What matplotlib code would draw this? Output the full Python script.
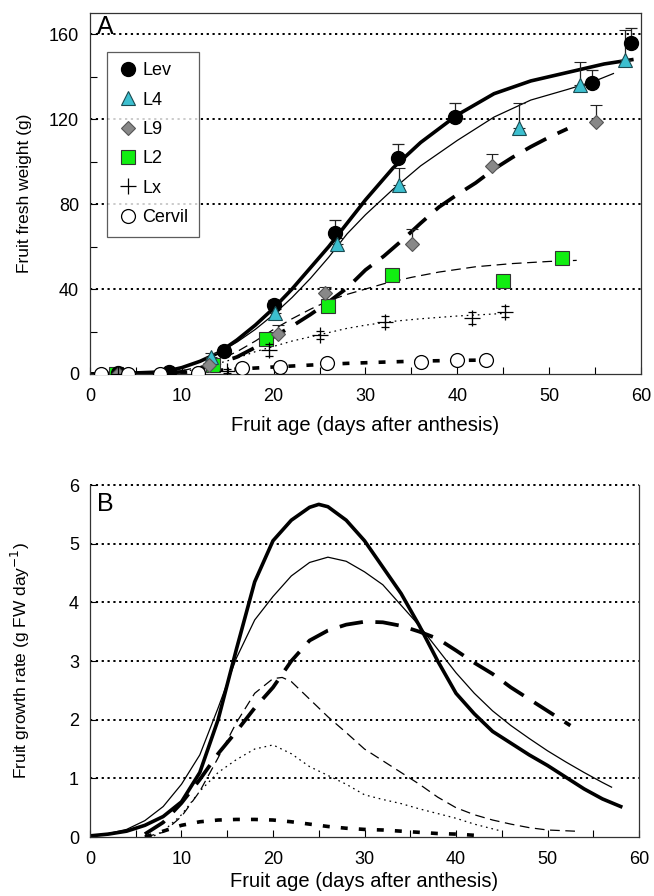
import numpy as np
import matplotlib.pyplot as plt
from matplotlib.ticker import MultipleLocator

plt.rcParams['font.family'] = ['Liberation Sans', 'DejaVu Sans']
plt.rcParams['lines.scale_dashes'] = False

# ---- Panel A: measured fresh weight (g) ----
lev_x = [3, 8.6, 14.6, 20.0, 26.7, 33.5, 39.7, 54.7, 58.9]
lev_y = [0.5, 0.8, 10.9, 32.5, 66.5, 101.9, 121, 137, 156]
lev_err = [0, 0, 1.5, 2.5, 6, 6.3, 6.6, 6, 7]

l4_x = [3, 13.2, 20.1, 26.9, 33.6, 46.7, 53.4, 58.3]
l4_y = [0, 8, 28.6, 61, 89, 116, 136, 148]
l4_err = [0, 2, 2, 3, 8, 11.8, 10.8, 14]

l9_x = [3, 13, 20.5, 25.6, 35.1, 43.8, 55.1]
l9_y = [0, 4, 19, 38, 61.2, 97.8, 118.6]
l9_err = [0, 1, 4, 3, 7, 5.7, 8]

l2_x = [2.8, 13.4, 19.2, 25.9, 32.9, 45.0, 51.4]
l2_y = [0, 4.2, 16.5, 32, 46.7, 43.9, 54.6]

lx_x = [3, 14.9, 19.5, 25, 32.1, 41.6, 45.2]
lx_y = [0, 1.5, 11.3, 18.4, 24.6, 26.4, 29.3]
lx_err = [0, 1, 3, 2, 2.5, 3, 2.5]

cer_x = [1.2, 4.1, 7.6, 11.8, 16.5, 20.7, 25.8, 36.0, 40.0, 43.1]
cer_y = [0, 0, 0, 0.5, 2.8, 3.5, 5, 5.8, 6.6, 6.6]

# ---- Panel A: fitted curves ----
lev_fx = [0, 5, 8, 10, 12, 14, 16, 18, 20, 22, 24, 26, 28, 30, 33, 36, 40, 44, 48, 52, 56, 59]
lev_fy = [0, 0.5, 1, 3, 6, 10, 16, 23, 31, 40, 50, 60, 71, 82, 97, 109, 122, 132, 138, 142, 146, 148]

l4_fx = [0, 5, 8, 10, 12, 14, 16, 18, 20, 22, 24, 26, 28, 30, 33, 36, 40, 44, 48, 52, 55, 57]
l4_fy = [0, 0.5, 1.5, 3, 6, 10, 15, 21, 28, 36, 45, 55, 66, 75, 87, 98, 110, 121, 129, 134, 138, 141.5]

l9_fx = [0, 8, 10, 12, 14, 16, 18, 20, 22, 24, 26, 28, 30, 32, 34, 36, 38, 40, 42, 44, 46, 48, 50, 52]
l9_fy = [0, 0.5, 1, 2.5, 5, 8, 12.5, 17.5, 22.5, 28, 34, 40.5, 49, 55.5, 63, 71, 78.6, 84.5, 90, 96.5, 102, 107, 111.5, 115.5]

l2_fx = [0, 8, 10, 12, 14, 16, 18, 20, 22, 24, 26, 28, 30, 32, 35, 38, 42, 46, 50, 53]
l2_fy = [0, 0.5, 1.5, 3.5, 6.5, 10.5, 15.5, 21, 26, 30.5, 34.5, 37.5, 40, 42.5, 45.5, 48, 50.5, 52, 53, 53.5]

lx_fx = [0, 8, 10, 12, 14, 16, 18, 20, 22, 24, 26, 28, 30, 33, 36, 40, 45]
lx_fy = [0, 0.3, 1, 2.5, 5, 7.5, 10.5, 13, 15.5, 17.5, 19.5, 21.5, 23, 24.8, 26, 27.3, 28.5]

cer_fx = [0, 8, 12, 16, 20, 24, 28, 32, 36, 40, 42]
cer_fy = [0, 0.3, 1.2, 2.3, 3.3, 4.2, 5, 5.6, 6.1, 6.4, 6.5]

# ---- Panel B: growth rate (g FW day-1) ----
lev_rx = [0, 2, 4, 6, 8, 10, 12, 14, 16, 18, 20, 22, 24, 25, 26, 28, 30, 32, 34, 36, 38, 40, 42, 44, 46, 48, 50, 52, 54, 56, 58]
lev_ry = [0.02, 0.05, 0.1, 0.2, 0.35, 0.6, 1.1, 2.0, 3.2, 4.35, 5.05, 5.4, 5.62, 5.67, 5.63, 5.4, 5.05, 4.6, 4.15, 3.6, 3.0, 2.45, 2.1, 1.8, 1.6, 1.4, 1.22, 1.02, 0.82, 0.65, 0.52]

l4_rx = [0, 2, 4, 6, 8, 10, 12, 14, 16, 18, 20, 22, 24, 26, 28, 30, 32, 34, 36, 38, 40, 42, 44, 46, 48, 50, 52, 54, 56, 57]
l4_ry = [0.02, 0.06, 0.13, 0.28, 0.52, 0.9, 1.4, 2.2, 3.05, 3.7, 4.1, 4.45, 4.68, 4.77, 4.7, 4.52, 4.3, 3.95, 3.6, 3.2, 2.8, 2.45, 2.15, 1.9, 1.68, 1.47, 1.28, 1.1, 0.93, 0.85]

l9_rx = [6, 8, 10, 12, 14, 16, 18, 20, 22, 24, 26, 28, 30, 32, 34, 36, 38, 40, 42, 44, 46, 48, 50, 52.5]
l9_ry = [0.05, 0.25, 0.58, 0.98, 1.42, 1.8, 2.2, 2.55, 3.0, 3.35, 3.52, 3.62, 3.67, 3.66, 3.6, 3.5, 3.38, 3.18, 2.97, 2.78, 2.55, 2.35, 2.15, 1.9]

l2_rx = [6, 8, 10, 12, 14, 16, 18, 20, 21, 22, 24, 26, 28, 30, 32, 34, 36, 38, 40, 42, 44, 46, 48, 50, 53]
l2_ry = [0.0, 0.08, 0.35, 0.78, 1.35, 1.95, 2.45, 2.7, 2.72, 2.65, 2.35, 2.05, 1.78, 1.5, 1.3, 1.1, 0.9, 0.68, 0.5, 0.38, 0.29, 0.22, 0.16, 0.12, 0.1]

lx_rx = [7, 8, 10, 12, 14, 16, 18, 20, 22, 24, 26, 28, 30, 32, 34, 36, 38, 40, 42, 44, 45]
lx_ry = [0.02, 0.1, 0.38, 0.78, 1.1, 1.32, 1.5, 1.57, 1.42, 1.2, 1.05, 0.9, 0.72, 0.64, 0.57, 0.48, 0.4, 0.32, 0.22, 0.14, 0.1]

cer_rx = [6, 8, 10, 12, 14, 16, 18, 20, 22, 24, 26, 28, 30, 32, 34, 36, 38, 40, 42]
cer_ry = [0.0, 0.1, 0.2, 0.26, 0.29, 0.3, 0.3, 0.29, 0.26, 0.22, 0.18, 0.15, 0.13, 0.12, 0.1, 0.08, 0.06, 0.05, 0.03]

labels = ['Lev', 'L4', 'L9', 'L2', 'Lx', 'Cervil']

# line styles shared by both panels
styles = {
    'Lev': dict(color='black', lw=2.6, ls='-'),
    'L4': dict(color='black', lw=0.9, ls='-'),
    'L9': dict(color='black', lw=2.7, ls=(0, (17, 9))),
    'L2': dict(color='black', lw=0.9, ls=(0, (7, 4))),
    'Lx': dict(color='black', lw=0.9, ls=(0, (1.2, 2.8))),
    'Cervil': dict(color='black', lw=2.6, ls=(0, (5, 8))),
}
markers = {
    'Lev': dict(marker='o', ms=10, mfc='black', mec='black'),
    'L4': dict(marker='^', ms=10.5, mfc='#3cbfcf', mec='#1a4a50', mew=0.8),
    'L9': dict(marker='D', ms=7.5, mfc='#888888', mec='#555555', mew=0.8),
    'L2': dict(marker='s', ms=9.5, mfc='#11ee11', mec='#333333', mew=0.8),
    'Lx': dict(marker='+', ms=11, mec='black', mew=0.9),
    'Cervil': dict(marker='o', ms=10, mfc='white', mec='black', mew=0.9),
}

fig = plt.figure(figsize=(6.54, 8.96), dpi=100)
axA = fig.add_axes([0.1376, 0.5826, 0.8425, 0.4029])
axB = fig.add_axes([0.1376, 0.0658, 0.8395, 0.3929])


def style_axes(ax, ymax, ygrid, ymajor, yminor):
    ax.set_xlim(0, 60)
    ax.set_ylim(0, ymax)
    for g in ygrid:
        ax.axhline(g, color='black', lw=1.4, ls=(0, (1.6, 2.6)), zorder=0.5, clip_on=False)
    ax.xaxis.set_major_locator(MultipleLocator(10))
    ax.xaxis.set_minor_locator(MultipleLocator(5))
    ax.yaxis.set_major_locator(MultipleLocator(ymajor))
    if yminor:
        ax.yaxis.set_minor_locator(MultipleLocator(yminor))
    ax.tick_params(which='both', direction='in', labelsize=13, width=0.8, length=5)
    ax.tick_params(axis='x', which='both', pad=10)
    ax.tick_params(axis='y', which='both', pad=8)
    for s in ax.spines.values():
        s.set_linewidth(0.9)
        s.set_color('#333333')


# ---- Panel A ----
style_axes(axA, 170, [40, 80, 120, 160], 40, 20)
axA.plot(lev_fx, lev_fy, **styles['Lev'], zorder=2)
axA.plot(l4_fx, l4_fy, **styles['L4'], zorder=2)
axA.plot(l9_fx, l9_fy, **styles['L9'], zorder=2)
axA.plot(l2_fx, l2_fy, **styles['L2'], zorder=2)
axA.plot(lx_fx, lx_fy, **styles['Lx'], zorder=2)
axA.plot(cer_fx, cer_fy, **styles['Cervil'], zorder=2)

eb = dict(ls='none', ecolor='#222222', elinewidth=0.9, capsize=4, capthick=0.9, zorder=4)
axA.errorbar(lev_x, lev_y, yerr=[np.zeros(len(lev_err)), lev_err], **markers['Lev'], **eb)
axA.errorbar(l4_x, l4_y, yerr=[np.zeros(len(l4_err)), l4_err], **markers['L4'], **eb)
axA.errorbar(l9_x, l9_y, yerr=[np.zeros(len(l9_err)), l9_err], **markers['L9'], **eb)
axA.plot(l2_x, l2_y, ls='none', zorder=4, **markers['L2'])
axA.errorbar(lx_x, lx_y, yerr=lx_err, ls='none', ecolor='black', elinewidth=0.8,
             capsize=3, capthick=0.8, zorder=4, **markers['Lx'])
axA.plot(cer_x, cer_y, ls='none', zorder=5, **markers['Cervil'])

axA.set_ylabel('Fruit fresh weight (g)', fontsize=12.5)
axA.yaxis.set_label_coords(-0.105, 0.5)
axA.set_xlabel('Fruit age (days after anthesis)', fontsize=14.5, va='top')
axA.xaxis.set_label_coords(0.5, -0.115)
axA.text(0.013, 0.995, 'A', transform=axA.transAxes, fontsize=18, va='top', ha='left')

handles = [plt.Line2D([], [], ls='none', **markers[k]) for k in labels]
leg = axA.legend(handles, labels, loc='upper left', bbox_to_anchor=(0.031, 0.893),
                 fontsize=13, frameon=True, fancybox=False, edgecolor='#333333',
                 handletextpad=0.25, handlelength=1.1, labelspacing=0.68,
                 borderpad=0.6, borderaxespad=0)
leg.get_frame().set_linewidth(0.9)

# ---- Panel B ----
style_axes(axB, 6, [1, 2, 3, 4, 5, 6], 1, None)
axB.spines['top'].set_visible(False)
axB.plot(lev_rx, lev_ry, **styles['Lev'])
axB.plot(l4_rx, l4_ry, **styles['L4'])
axB.plot(l9_rx, l9_ry, **styles['L9'])
axB.plot(l2_rx, l2_ry, **styles['L2'])
axB.plot(lx_rx, lx_ry, **styles['Lx'])
axB.plot(cer_rx, cer_ry, **styles['Cervil'])
axB.set_ylabel('Fruit growth rate (g FW day$^{-1}$)', fontsize=12.5)
axB.yaxis.set_label_coords(-0.105, 0.5)
axB.set_xlabel('Fruit age (days after anthesis)', fontsize=14.5, va='top')
axB.xaxis.set_label_coords(0.5, -0.1)
axB.text(0.013, 0.98, 'B', transform=axB.transAxes, fontsize=18, va='top', ha='left')

fig.savefig('out.png', dpi=100)
